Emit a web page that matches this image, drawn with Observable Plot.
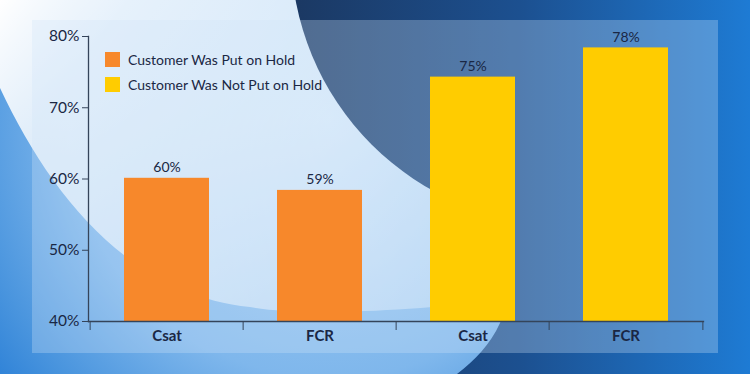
<!DOCTYPE html>
<html>
<head>
<meta charset="utf-8">
<script src="https://cdn.jsdelivr.net/npm/d3@7"></script>
<script src="https://cdn.jsdelivr.net/npm/@observablehq/plot@0.6"></script>
<style>
  html, body { margin: 0; padding: 0; background: #ffffff; }
  #wrap { position: relative; width: 750px; height: 374px; overflow: hidden; font-family: Lato, "Open Sans", sans-serif; }
  #bg { position: absolute; left: 0; top: 0; }
  #chart { position: absolute; left: 0; top: 0; }
  #legend { position: absolute; left: 105px; top: 52px; width: 320px; }
</style>
</head>
<body>
<div id="wrap">
  <svg id="bg" width="750" height="374" viewBox="0 0 750 374">
    <defs>
      <linearGradient id="dark" gradientUnits="userSpaceOnUse" x1="290" y1="0" x2="750" y2="0">
        <stop offset="0" stop-color="#1b3862"/>
        <stop offset="0.5" stop-color="#1c5090"/>
        <stop offset="1" stop-color="#1e7bd4"/>
      </linearGradient>
      <radialGradient id="light" gradientUnits="userSpaceOnUse" cx="330" cy="120" r="430">
        <stop offset="0" stop-color="#a9d1f5"/>
        <stop offset="0.6" stop-color="#7fb7ec"/>
        <stop offset="0.85" stop-color="#4a95de"/>
        <stop offset="1" stop-color="#2a7fd6"/>
      </radialGradient>
      <linearGradient id="wave" gradientUnits="userSpaceOnUse" x1="0" y1="0" x2="420" y2="310">
        <stop offset="0" stop-color="#ffffff" stop-opacity="1"/>
        <stop offset="0.2" stop-color="#ffffff" stop-opacity="0.8"/>
        <stop offset="1" stop-color="#ffffff" stop-opacity="0.4"/>
      </linearGradient>
    </defs>
    <rect width="750" height="374" fill="url(#dark)"/>
    <path d="M0,0 H440 L500,220 C515,260 512,300 500,323 C490,345 475,360 457,374 H0 Z" fill="url(#light)"/>
    <path d="M0,0 V88 C50,195 130,295 250,307 C300,316 400,312 505,300 L470,0 Z" fill="url(#wave)"/>
    <circle cx="566" cy="-50" r="275" fill="url(#dark)"/>
    <rect x="32" y="20" width="686" height="333" fill="#cfe4f8" fill-opacity="0.3"/>
  </svg>
  <div id="chart"></div>
  <div id="legend"></div>
</div>
<script>
// ---- data ----
const keys = ["hold-csat", "hold-fcr", "nohold-csat", "nohold-fcr"];
const categories = ["Csat", "FCR", "Csat", "FCR"];
const groups = ["Customer Was Put on Hold", "Customer Was Put on Hold", "Customer Was Not Put on Hold", "Customer Was Not Put on Hold"];
const values = [60.1, 58.4, 74.3, 78.4];
const valueLabels = ["60%", "59%", "75%", "78%"];
const groupNames = ["Customer Was Put on Hold", "Customer Was Not Put on Hold"];
const groupColors = ["#f7882b", "#ffcc00"];
const yTicks = [40, 50, 60, 70, 80];

const data = keys.map((k, i) => ({key: k, category: categories[i], group: groups[i], value: values[i], label: valueLabels[i]}));
const catOf = Object.fromEntries(keys.map((k, i) => [k, categories[i]]));

const W = 750, H = 374, ML = 88, MR = 47, MT = 36, MB = 53;
const half = (W - ML - MR) / keys.length / 2;
const ink = "#1a2744";

const chart = Plot.plot({
  width: W, height: H,
  marginLeft: ML, marginRight: MR, marginTop: MT, marginBottom: MB,
  style: {background: "transparent", color: ink, fontFamily: "Lato, 'Open Sans', sans-serif", overflow: "visible"},
  x: {domain: keys, padding: 0, axis: null},
  y: {domain: [40, 80], axis: null},
  color: {domain: groupNames, range: groupColors},
  marks: [
    Plot.barY(data, {x: "key", y1: 40, y2: "value", fill: "group", insetLeft: 34, insetRight: 34}),
    Plot.text(data, {x: "key", y: "value", text: "label", lineAnchor: "bottom", dy: -6, fontSize: 14, fill: ink}),
    Plot.frame({anchor: "left", stroke: "#34445a", strokeWidth: 1.3}),
    Plot.frame({anchor: "bottom", stroke: "#34445a", strokeWidth: 1.3}),
    Plot.axisY({ticks: yTicks, tickFormat: d => d + "%", tickSize: 6, tickPadding: 3, fontSize: 15.5, stroke: "#34445a", fill: ink, label: null}),
    Plot.axisX({ticks: keys, tickSize: 0, tickPadding: 9, tickFormat: k => catOf[k], fontSize: 15, fontWeight: "bold", fill: ink, label: null}),
    Plot.axisX({ticks: keys, tickSize: 9, text: null, dx: -half, stroke: "#34445a", label: null}),
    Plot.axisX({ticks: keys.slice(-1), tickSize: 9, text: null, dx: half, stroke: "#34445a", label: null})
  ]
});
document.getElementById("chart").appendChild(chart);

const legend = Plot.legend({
  legend: "swatches",
  color: {domain: groupNames, range: groupColors},
  swatchSize: 15,
  columns: 1,
  className: "lg",
  style: {fontFamily: "Lato, 'Open Sans', sans-serif", fontSize: "14px", color: ink}
});
document.getElementById("legend").appendChild(legend);
</script>
<style>
  #legend .lg-swatches { margin: 0; min-height: 0; }
  #legend div { line-height: 15px; overflow: visible !important; text-overflow: clip !important; }
  #legend > div > div { display: flex; align-items: center; height: 15px; margin: 0 0 10px 0; padding: 0; }
  #legend svg { margin-right: 8px !important; }
</style>
</body>
</html>
